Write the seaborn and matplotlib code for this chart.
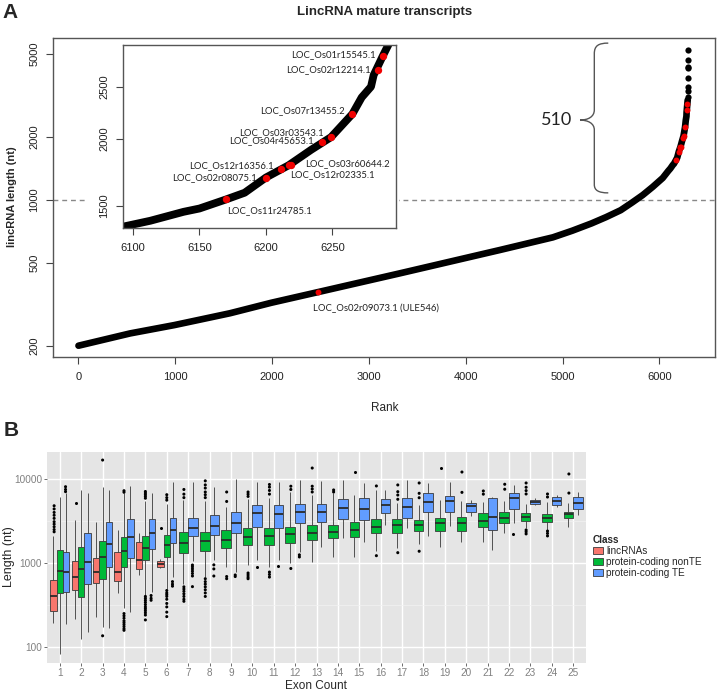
import numpy as np
import pandas as pd
import matplotlib
matplotlib.use("Agg")
import matplotlib.pyplot as plt
import seaborn as sns
from matplotlib.path import Path
from matplotlib.patches import PathPatch, Rectangle, Patch
from matplotlib.ticker import NullLocator, FixedLocator

# ---------------- Panel A data ----------------
CURVE_RANK = [1, 534, 991, 1566, 1992, 2474, 3320, 4352, 4900, 5100, 5300, 5450, 5600,
              5720, 5828, 5930, 6034, 6092, 6113, 6138, 6150, 6170, 6184, 6200, 6217,
              6234, 6249, 6265, 6272, 6279, 6281, 6288, 6292]
CURVE_LENGTH = [200, 229, 251, 286, 321, 361, 444, 574, 660, 710, 770, 825, 890,
                970, 1052, 1150, 1269, 1373, 1409, 1464, 1485, 1544, 1589, 1696, 1787,
                1910, 2017, 2227, 2391, 2503, 2631, 2860, 2993]
TAIL_RANK = [6293, 6294, 6295, 6296, 6297, 6298, 6299, 6300]
TAIL_LENGTH = [3100, 3300, 3450, 3800, 4250, 4330, 4650, 5200]

HL_ID = ["LOC_Os01r15545.1", "LOC_Os02r12214.1", "LOC_Os07r13455.2",
         "LOC_Os03r03543.1", "LOC_Os04r45653.1", "LOC_Os12r16356.1",
         "LOC_Os03r60644.2", "LOC_Os12r02335.1", "LOC_Os02r08075.1",
         "LOC_Os11r24785.1", "LOC_Os02r09073.1 (ULE546)"]
HL_RANK = [6288, 6284, 6265, 6249, 6242, 6211, 6219, 6217, 6200, 6170, 2474]
HL_LENGTH = [2860, 2689, 2227, 2017, 1972, 1757, 1792, 1787, 1696, 1544, 361]
# label anchor (rank, length, alignment) for each highlighted id
HL_LABEL_RANK = [6282.7, 6278.7, 6258.9, 6243.8, 6236.3, 6205.5, 6229.8, 6218.0, 6193.0, 6170.5, 2422]
HL_LABEL_LENGTH = [2875, 2689, 2258, 2055, 1983, 1782, 1797, 1719, 1694, 1470, 303]
HL_LABEL_HA = ["right", "right", "right", "right", "right", "right", "left", "left", "right", "left", "left"]

MAIN_TICKS_X = [0, 1000, 2000, 3000, 4000, 5000, 6000]
MAIN_TICKS_Y = [200, 500, 1000, 2000, 5000]
INSET_TICKS_X = [6100, 6150, 6200, 6250]
INSET_TICKS_Y = [1500, 2000, 2500]
THRESHOLD = 1000
N_ABOVE = "510"

# ---------------- Panel B data ----------------
CLASSES = ["lincRNAs", "protein-coding nonTE", "protein-coding TE"]
COLORS = ["#F8766D", "#00BA38", "#619CFF"]
EXON_COUNT = list(range(1, 26))

LINC_GROUPS = [1, 2, 3, 4, 5, 6]
LINC_LO = [195, 213, 230, 443, 720, 863]
LINC_Q1 = [270, 477, 573, 617, 841, 888]
LINC_MED = [408, 675, 775, 789, 1086, 964]
LINC_Q3 = [628, 1057, 1136, 1365, 1795, 1057]
LINC_HI = [2094, 3250, 3100, 2470, 2275, 1117]

NONTE_LO = [83, 123, 175, 288, 417, 495, 560, 687, 888, 946, 888, 990, 1037,
            1168, 1180, 1390, 1496, 1667, 1563, 1795, 1795, 2254, 2590, 2470, 2700]
NONTE_Q1 = [435, 390, 645, 888, 1086, 1189, 1303, 1390, 1496, 1637, 1637, 1714, 1880,
            1968, 2023, 2254, 2254, 2404, 2404, 2404, 2660, 2965, 3190, 3050, 3400]
NONTE_MED = [803, 841, 1168, 1390, 1496, 1637, 1745, 1828, 1880, 2056, 2094, 2195, 2296,
             2360, 2500, 2700, 2830, 2830, 2965, 3020, 3160, 3470, 3560, 3470, 3790]
NONTE_Q3 = [1429, 1563, 1828, 2023, 2094, 2153, 2360, 2360, 2470, 2635, 2635, 2700, 2830,
            2830, 3100, 3340, 3310, 3250, 3470, 3560, 3900, 4080, 3900, 3790, 4080]
NONTE_HI = [6150, 7400, 8090, 6760, 5400, 5100, 5600, 5500, 4700, 5800, 6000, 7000, 6500,
            6750, 6500, 7400, 5130, 4900, 5620, 5520, 5370, 5520, 5030, 5370, 5230]

TE_LO = [186, 152, 167, 264, 450, 687, 1050, 1086, 789, 1086, 1086, 1365, 1563,
         1968, 1795, 2830, 2590, 2094, 2750, 3630, 1429, 2965, 4850, 4600, 3720]
TE_Q1 = [456, 562, 888, 1136, 1455, 1714, 2094, 2153, 2254, 2660, 2590, 2965, 3100,
         3310, 3250, 3900, 3400, 4010, 4010, 4080, 2470, 4350, 5030, 4900, 4350]
TE_MED = [789, 1037, 1683, 2056, 2254, 2470, 2590, 2780, 3020, 3900, 3830, 4010, 4080,
          4480, 4350, 4900, 4600, 5270, 5520, 4810, 3560, 5890, 5370, 5520, 5130]
TE_Q3 = [1365, 2296, 3100, 3310, 3310, 3400, 3400, 3720, 4080, 4900, 4900, 5030, 5030,
         5730, 5890, 5780, 5890, 6870, 6280, 5230, 5890, 6870, 5620, 6060, 6060]
TE_HI = [6810, 6750, 7400, 8260, 6800, 9300, 9300, 8090, 10000, 9100, 9300, 9700, 9500,
         9800, 8870, 7400, 9700, 9040, 9300, 5620, 6060, 8490, 5890, 6440, 7060]

LINC_OUT_X = [1] * 10 + [2, 6]
LINC_OUT_Y = [4800, 4400, 4000, 3700, 3400, 3100, 2900, 2700, 2500, 2350, 5230, 2620]

NONTE_OUT_X = ([3, 3] + [4] * 11 + [5] * 16 + [6] * 12 + [7] * 10 + [8] * 13 + [9] * 4 +
               [10] * 7 + [11] * 7 + [12] * 3 + [13] * 4 + [14] * 2 + [15] + [16] * 2 +
               [17] * 5 + [18] * 4 + [19] + [20] * 2 + [21] * 2 + [22] * 2 + [23] * 7 +
               [24] * 5 + [25] * 2)
NONTE_OUT_Y = ([16800, 136] +
               [7250, 6950, 250, 235, 220, 205, 195, 185, 175, 165, 158] +
               [5900, 6200, 6500, 6800, 7100, 400, 380, 360, 340, 320, 300, 285, 270, 255, 240, 210] +
               [5600, 6000, 6500, 470, 440, 420, 400, 370, 330, 300, 260, 230] +
               [6000, 6600, 7500, 520, 490, 460, 430, 400, 370, 350] +
               [6000, 6500, 7000, 7800, 8500, 9500, 650, 600, 560, 520, 480, 440, 400] +
               [5400, 7000, 690, 650] +
               [6200, 6600, 7000, 760, 720, 680, 650] +
               [6600, 7300, 8000, 8600, 780, 730, 680] +
               [7500, 8200, 860] +
               [7000, 7600, 8200, 13500] +
               [7000, 7400] +
               [12100] +
               [8260, 1222] +
               [8490, 7060, 6440, 5730, 1327] +
               [8960, 6750, 5980, 1380] +
               [13500] +
               [6930, 12100] +
               [7200, 6600] +
               [8650, 7550] +
               [8960, 7970, 7270, 6630, 2470, 2350, 2220] +
               [6630, 6100, 2400, 2250, 2100] +
               [6800, 11470])

TE_OUT_X = [1, 1, 1, 5, 5, 5, 6, 6, 6] + [7] * 7 + [8] * 3 + [9, 9, 10, 11, 12, 12, 22]
TE_OUT_Y = [8090, 7500, 7070, 410, 380, 360, 600, 560, 530,
            946, 900, 850, 800, 750, 700, 523, 950, 850, 700,
            720, 690, 900, 930, 1250, 1180, 2210]

B_TICKS_Y = [100, 1000, 10000]


# ---------------- helpers ----------------
def box_rows(groups, cls, *stats):
    rows = []
    for i, g in enumerate(groups):
        for s in stats:
            rows.append((g, cls, s[i]))
    return rows


W, H = 719, 691


def fig_rect(left, top, right, bottom):
    return [left / W, 1 - bottom / H, (right - left) / W, (bottom - top) / H]


sns.set_theme(style="white")
plt.rcParams["font.family"] = ["Liberation Sans", "DejaVu Sans"]

fig = plt.figure(figsize=(W / 100, H / 100), dpi=100)

# ================= Panel A =================
ax = fig.add_axes(fig_rect(53, 37.7, 715, 357))
ax.set_yscale("log")
sns.lineplot(x=CURVE_RANK, y=CURVE_LENGTH, ax=ax, color="black", linewidth=4.8,
             estimator=None, sort=False, solid_capstyle="round", zorder=2)
sns.scatterplot(x=TAIL_RANK, y=TAIL_LENGTH, ax=ax, color="black", s=20, linewidth=0, zorder=2)
sns.scatterplot(x=HL_RANK, y=HL_LENGTH, ax=ax, color="#F00000", s=18, linewidth=0, zorder=3)
ax.axhline(THRESHOLD, color="#888888", lw=1.0, ls=(0, (3.5, 2.8)), zorder=1)

ax.set_xlim(-262, 6574)
ax.set_ylim(176.6, 5955)
ax.set_xticks(MAIN_TICKS_X)
ax.set_xticklabels([str(v) for v in MAIN_TICKS_X])
ax.set_yticks(MAIN_TICKS_Y)
ax.set_yticklabels([str(v) for v in MAIN_TICKS_Y])
ax.yaxis.set_minor_locator(NullLocator())
ax.tick_params(axis="both", which="major", direction="out", length=5, width=0.8,
               color="#444444", labelsize=8, labelcolor="#222222", pad=6,
               bottom=True, left=True)
ax.tick_params(axis="y", labelrotation=90, pad=5)
for lab in ax.get_yticklabels():
    lab.set_va("center")
for sp in ax.spines.values():
    sp.set_color("#555555")
    sp.set_linewidth(1.0)
ax.set_xlabel("")
ax.set_ylabel("")

# ULE546 label
ax.text(HL_LABEL_RANK[-1], HL_LABEL_LENGTH[-1], HL_ID[-1], fontsize=6.8,
        family=["Lato", "DejaVu Sans"], ha="left", va="center", color="#222222")

# brace and count
verts = [(0.8388, 0.983), (0.8240, 0.983), (0.8177, 0.975), (0.8177, 0.950),
         (0.8177, 0.774),
         (0.8177, 0.752), (0.8080, 0.742), (0.7961, 0.742),
         (0.8080, 0.742), (0.8177, 0.732), (0.8177, 0.711),
         (0.8177, 0.540),
         (0.8177, 0.522), (0.8240, 0.514), (0.8388, 0.514)]
codes = [Path.MOVETO, Path.CURVE4, Path.CURVE4, Path.CURVE4,
         Path.LINETO,
         Path.CURVE4, Path.CURVE4, Path.CURVE4,
         Path.CURVE4, Path.CURVE4, Path.CURVE4,
         Path.LINETO,
         Path.CURVE4, Path.CURVE4, Path.CURVE4]
ax.add_patch(PathPatch(Path(verts, codes), transform=ax.transAxes, fill=False,
                       edgecolor="#555555", lw=1.0, clip_on=False))
ax.text(0.761, 0.742, N_ABOVE, transform=ax.transAxes, fontsize=13,
        family=["Lato", "DejaVu Sans"], ha="center", va="center", color="#222222")

# white area behind the inset
ax.add_patch(Rectangle((0.0514, 0.288), 0.4713, 0.705, transform=ax.transAxes,
                       facecolor="white", edgecolor="none", zorder=2.2))

# ---- inset ----
axi = fig.add_axes(fig_rect(123, 45, 396, 228))
axi.set_yscale("log")
sns.lineplot(x=CURVE_RANK, y=CURVE_LENGTH, ax=axi, color="black", linewidth=5.6,
             estimator=None, sort=False, solid_capstyle="round", zorder=2)
sns.scatterplot(x=TAIL_RANK, y=TAIL_LENGTH, ax=axi, color="black", s=28, linewidth=0, zorder=2)
sns.scatterplot(x=HL_RANK[:-1], y=HL_LENGTH[:-1], ax=axi, color="#F00000", s=28,
                linewidth=0, zorder=3)
axi.set_xlim(6092.5, 6297.8)
axi.set_ylim(1366, 2993)
axi.set_xticks(INSET_TICKS_X)
axi.set_xticklabels([str(v) for v in INSET_TICKS_X])
axi.set_yticks(INSET_TICKS_Y)
axi.set_yticklabels([str(v) for v in INSET_TICKS_Y])
axi.yaxis.set_minor_locator(NullLocator())
axi.tick_params(axis="both", which="major", direction="out", length=5, width=0.8,
                color="#444444", labelsize=8, labelcolor="#222222", pad=6,
                bottom=True, left=True)
axi.tick_params(axis="y", labelrotation=90, pad=5)
for lab in axi.get_yticklabels():
    lab.set_va("center")
for sp in axi.spines.values():
    sp.set_color("#555555")
    sp.set_linewidth(1.0)
axi.set_xlabel("")
axi.set_ylabel("")
for name, xr, yl, ha in zip(HL_ID[:-1], HL_LABEL_RANK[:-1], HL_LABEL_LENGTH[:-1], HL_LABEL_HA[:-1]):
    axi.text(xr, yl, name, fontsize=6.8, family=["Lato", "DejaVu Sans"],
             ha=ha, va="center", color="#222222")

fig.text(10 / W, 1 - 13 / H, "A", fontsize=15, weight="bold", ha="center", va="center")
fig.text(385 / W, 1 - 12 / H, "LincRNA mature transcripts", fontsize=9.5,
         weight="bold", ha="center", va="center")
fig.text(12 / W, 1 - 197 / H, "lincRNA length (nt)", fontsize=8, weight="bold",
         rotation=90, ha="center", va="center")
fig.text(385 / W, 1 - 408 / H, "Rank", fontsize=8.5, ha="center", va="center")

# ================= Panel B =================
rows = []
rows += box_rows(LINC_GROUPS, CLASSES[0], LINC_LO, LINC_Q1, LINC_MED, LINC_Q3, LINC_HI)
rows += box_rows(EXON_COUNT, CLASSES[1], NONTE_LO, NONTE_Q1, NONTE_MED, NONTE_Q3, NONTE_HI)
rows += box_rows(EXON_COUNT, CLASSES[2], TE_LO, TE_Q1, TE_MED, TE_Q3, TE_HI)
df = pd.DataFrame(rows, columns=["exon", "cls", "length"])

out = pd.DataFrame({
    "exon": LINC_OUT_X + NONTE_OUT_X + TE_OUT_X,
    "cls": [CLASSES[0]] * len(LINC_OUT_X) + [CLASSES[1]] * len(NONTE_OUT_X) + [CLASSES[2]] * len(TE_OUT_X),
    "length": LINC_OUT_Y + NONTE_OUT_Y + TE_OUT_Y,
})

axb = fig.add_axes(fig_rect(47, 452, 586, 663))
axb.set_facecolor("#E5E5E5")
axb.set_yscale("log")
palette = dict(zip(CLASSES, COLORS))
black = {c: "black" for c in CLASSES}
box_kw = dict(x="exon", y="length", hue="cls", native_scale=True, whis=np.inf,
              showfliers=False, showcaps=False, width=0.9, gap=0, saturation=1,
              linecolor="#3A3A3A", linewidth=0.6, legend=False, ax=axb,
              medianprops=dict(linewidth=1.3, color="#2A2A2A"))
first = df[df.exon <= 6]
rest = df[df.exon > 6]
sns.boxplot(data=first, hue_order=CLASSES, palette=palette, **box_kw)
sns.boxplot(data=rest, hue_order=CLASSES[1:], palette=palette, **box_kw)
strip_kw = dict(x="exon", y="length", hue="cls", native_scale=True, dodge=True,
                jitter=False, size=2.2, linewidth=0, legend=False, ax=axb)
sns.stripplot(data=out[out.exon <= 6], hue_order=CLASSES, palette=black, **strip_kw)
sns.stripplot(data=out[out.exon > 6], hue_order=CLASSES[1:], palette=black, **strip_kw)

axb.set_xlim(0.4, 25.6)
axb.set_ylim(64.5, 20950)
axb.set_xticks(EXON_COUNT)
axb.set_xticklabels([str(v) for v in EXON_COUNT])
axb.set_yticks(B_TICKS_Y)
axb.set_yticklabels([str(v) for v in B_TICKS_Y])
axb.yaxis.set_minor_locator(FixedLocator([10 ** 2.5, 10 ** 3.5]))
axb.xaxis.set_minor_locator(NullLocator())
axb.set_axisbelow(True)
axb.grid(True, which="major", color="white", linewidth=1.0)
axb.grid(True, which="minor", axis="y", color="#F2F2F2", linewidth=0.5)
axb.tick_params(axis="both", which="major", direction="out", length=2, width=0.6,
                color="#555555", labelsize=7.2, labelcolor="#808080", pad=1.5,
                bottom=True, left=True)
axb.tick_params(axis="y", which="minor", length=0)
for sp in axb.spines.values():
    sp.set_visible(False)
axb.set_xlabel("")
axb.set_ylabel("")

handles = [Patch(facecolor=c, edgecolor="#3A3A3A", linewidth=0.6) for c in COLORS]
leg = fig.legend(handles, CLASSES, title="Class", loc="upper left",
                 bbox_to_anchor=(593 / W, 1 - 535 / H), frameon=False, fontsize=7.2,
                 title_fontsize=7.2, handlelength=1.0, handleheight=0.75,
                 handletextpad=0.3, labelspacing=0.1, borderpad=0, borderaxespad=0,
                 alignment="left")
leg.get_title().set_fontweight("bold")

fig.text(11 / W, 1 - 430 / H, "B", fontsize=15, weight="bold", ha="center", va="center")
fig.text(9 / W, 1 - 557 / H, "Length (nt)", fontsize=9, rotation=90, ha="center", va="center")
fig.text(316 / W, 1 - 689 / H, "Exon Count", fontsize=8.5, ha="center", va="baseline")

fig.savefig("out.png", dpi=100)
